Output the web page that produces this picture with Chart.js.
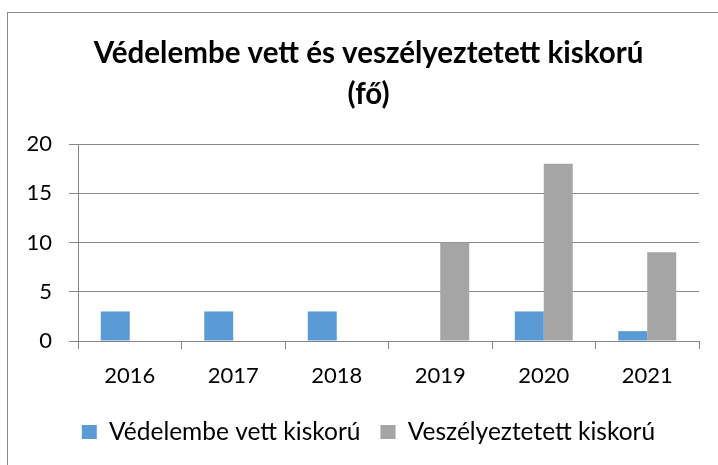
<!DOCTYPE html>
<html>
<head>
<meta charset="utf-8">
<script src="https://cdn.jsdelivr.net/npm/chart.js@4/dist/chart.umd.min.js"></script>
<style>
  html, body { margin: 0; padding: 0; background: #ffffff; }
  #wrap { position: relative; width: 718px; height: 465px; }
</style>
</head>
<body>
<div id="wrap"><canvas id="c" width="718" height="465"></canvas></div>
<script>
const categories = ['2016', '2017', '2018', '2019', '2020', '2021'];
const vedelembeVett = [3, 3, 3, 0, 3, 1];
const veszelyeztetett = [0, 0, 0, 10, 18, 9];
const yTicks = [0, 5, 10, 15, 20];
const seriesNames = ['Védelembe vett kiskorú', 'Veszélyeztetett kiskorú'];
const titleLines = ['Védelembe vett és veszélyeztetett kiskorú', '(fő)'];

const FONT = 'Lato, "Open Sans", sans-serif';
const GRID = '#878787';

const framePlugin = {
  id: 'frame',
  afterLayout(chart) {
    // centre title and legend over the (wider) outer frame, as in the original
    const shift = 9;
    if (chart.titleBlock) { chart.titleBlock.left += shift; chart.titleBlock.right += shift; }
    if (chart.legend) { chart.legend.left += shift; chart.legend.right += shift; }
  },
  beforeDraw(chart) {
    const ctx = chart.ctx;
    ctx.save();
    ctx.fillStyle = '#ffffff';
    ctx.fillRect(0, 0, chart.width, chart.height);
    ctx.strokeStyle = '#8a8a8a';
    ctx.lineWidth = 1;
    ctx.strokeRect(7.5, 12.5, 1000, 1000);
    ctx.restore();
  }
};

new Chart(document.getElementById('c'), {
  type: 'bar',
  data: {
    labels: categories,
    datasets: [
      { label: seriesNames[0], data: vedelembeVett, backgroundColor: '#5B9BD5', borderWidth: 0 },
      { label: seriesNames[1], data: veszelyeztetett, backgroundColor: '#A5A5A5', borderWidth: 0 }
    ]
  },
  options: {
    responsive: false,
    animation: false,
    devicePixelRatio: 1,
    categoryPercentage: 0.56,
    barPercentage: 1,
    layout: { padding: { left: 20, right: 19, top: 0, bottom: 10.75 } },
    plugins: {
      tooltip: { enabled: false },
      title: {
        display: true,
        text: titleLines,
        color: '#000000',
        font: { family: FONT, size: 29.5, weight: 'bold', lineHeight: 1.39 },
        padding: { top: 33, bottom: 29 }
      },
      legend: {
        position: 'bottom',
        labels: {
          color: '#000000',
          font: { family: FONT, size: 24.5 },
          boxWidth: 15,
          boxHeight: 14,
          padding: 20
        }
      }
    },
    scales: {
      x: {
        grid: { display: true, drawOnChartArea: false, drawTicks: true, tickLength: 8, color: GRID, offset: true },
        border: { display: true, color: GRID },
        ticks: { color: '#000000', font: { family: FONT, size: 22 }, padding: 14, maxRotation: 0 },
        afterFit(scale) { scale.height = 58.75; }
      },
      y: {
        min: 0,
        max: 20,
        afterBuildTicks(scale) { scale.ticks = yTicks.map(v => ({ value: v })); },
        grid: { color: GRID, tickLength: 9, drawTicks: true },
        border: { display: true, color: GRID },
        ticks: { color: '#000000', font: { family: FONT, size: 22 }, padding: 17 },
        afterFit(scale) { scale.width = 58; }
      }
    }
  },
  plugins: [framePlugin]
});
</script>
</body>
</html>
